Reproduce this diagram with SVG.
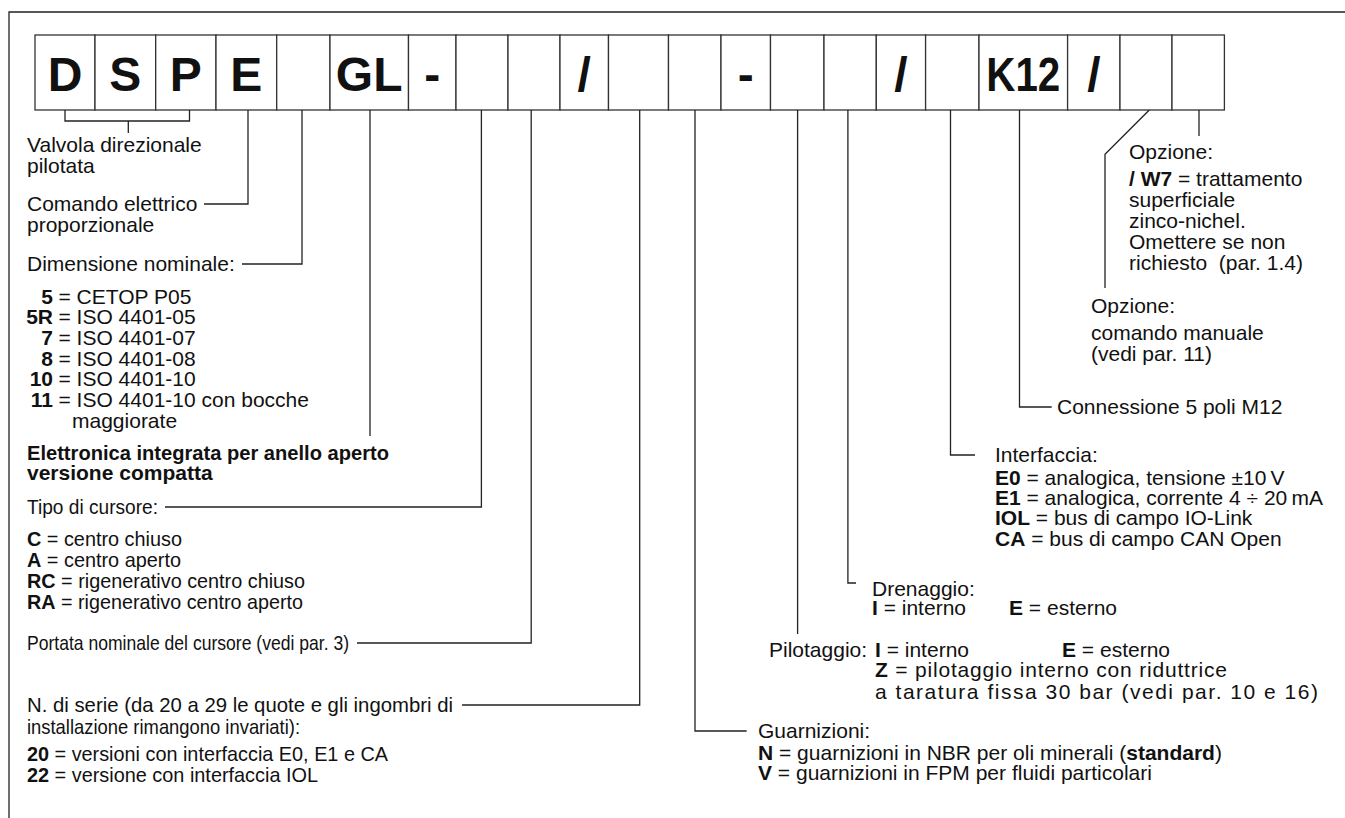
<svg xmlns="http://www.w3.org/2000/svg" width="1345" height="818" viewBox="0 0 1345 818">
<style>
text{font-family:"Liberation Sans",Arial,sans-serif;font-size:21px;fill:#111}
.b{font-weight:bold}
.big{font-size:48px;font-weight:bold;text-anchor:middle}
.end{text-anchor:end}
.box{fill:#fff;stroke:#333;stroke-width:1.3}
.ln{fill:none;stroke:#222;stroke-width:1.3}
</style>
<rect width="1345" height="818" fill="#fff"/>
<path class="ln" d="M9,818 V12 H1345" stroke-width="1.6"/>

<g id="code-boxes">
<g id="box-D"><rect class="box" x="35" y="35" width="60" height="75"/><text class="big" x="65" y="91">D</text></g>
<g id="box-S"><rect class="box" x="95" y="35" width="60.7" height="75"/><text class="big" x="125.3" y="91">S</text></g>
<g id="box-P"><rect class="box" x="155.7" y="35" width="60.3" height="75"/><text class="big" x="185.8" y="91">P</text></g>
<g id="box-E"><rect class="box" x="216" y="35" width="60.7" height="75"/><text class="big" x="246.3" y="91">E</text></g>
<g id="box-size"><rect class="box" x="276.7" y="35" width="53.3" height="75"/></g>
<g id="box-GL"><rect class="box" x="330" y="35" width="78.5" height="75"/><text class="big" x="369.2" y="91">GL</text></g>
<g id="box-dash1"><rect class="box" x="408.5" y="35" width="47.5" height="75"/><text class="big" x="432.2" y="91">-</text></g>
<g id="box-spool"><rect class="box" x="456" y="35" width="52" height="75"/></g>
<g id="box-flow"><rect class="box" x="508" y="35" width="52" height="75"/></g>
<g id="box-slash1"><rect class="box" x="560" y="35" width="48.5" height="75"/><text class="big" x="584.2" y="91">/</text></g>
<g id="box-series"><rect class="box" x="608.5" y="35" width="60" height="75"/></g>
<g id="box-seals"><rect class="box" x="668.5" y="35" width="52.5" height="75"/></g>
<g id="box-dash2"><rect class="box" x="721" y="35" width="49.5" height="75"/><text class="big" x="745.7" y="91">-</text></g>
<g id="box-pilot"><rect class="box" x="770.5" y="35" width="53.5" height="75"/></g>
<g id="box-drain"><rect class="box" x="824" y="35" width="52.3" height="75"/></g>
<g id="box-slash2"><rect class="box" x="876.3" y="35" width="49.3" height="75"/><text class="big" x="901" y="91">/</text></g>
<g id="box-interface"><rect class="box" x="925.6" y="35" width="53.4" height="75"/></g>
<g id="box-K12"><rect class="box" x="979" y="35" width="88.6" height="75"/><text class="big" x="1023.3" y="91" textLength="74" lengthAdjust="spacingAndGlyphs">K12</text></g>
<g id="box-slash3"><rect class="box" x="1067.6" y="35" width="52.4" height="75"/><text class="big" x="1093.8" y="91">/</text></g>
<g id="box-opt1"><rect class="box" x="1120" y="35" width="52" height="75"/></g>
<g id="box-opt2"><rect class="box" x="1172" y="35" width="52.4" height="75"/></g>
</g>

<g id="connectors">
<path class="ln" d="M65,110 V121 H189.5 V110 M128.3,121 V133"/>
<path class="ln" d="M248,110 V204 H204"/>
<path class="ln" d="M302,110 V264 H242"/>
<path class="ln" d="M370,110 V436"/>
<path class="ln" d="M481.4,110 V507 H165"/>
<path class="ln" d="M531.2,110 V643 H357"/>
<path class="ln" d="M639.7,110 V705 H462"/>
<path class="ln" d="M695,110 V731 H746.7"/>
<path class="ln" d="M797.6,110 V634"/>
<path class="ln" d="M847.9,110 V583 H856"/>
<path class="ln" d="M950.5,110 V455 H975"/>
<path class="ln" d="M1019.5,110 V407 H1051.7"/>
<path class="ln" d="M1149.3,110 L1105,154.3 V288"/>
<path class="ln" d="M1199,110 V136"/>
</g>

<g id="lbl-valve"><text x="27" y="152">Valvola direzionale</text><text x="27" y="173">pilotata</text></g>
<g id="lbl-electric"><text x="27" y="211">Comando elettrico</text><text x="27" y="232">proporzionale</text></g>
<g id="lbl-size">
<text x="27" y="271">Dimensione nominale:</text>
<text class="b end" x="53" y="303.5">5</text><text x="58.5" y="303.5">= CETOP P05</text>
<text class="b end" x="53" y="324.2">5R</text><text x="58.5" y="324.2">= ISO 4401-05</text>
<text class="b end" x="53" y="344.9">7</text><text x="58.5" y="344.9">= ISO 4401-07</text>
<text class="b end" x="53" y="365.6">8</text><text x="58.5" y="365.6">= ISO 4401-08</text>
<text class="b end" x="53" y="386.3">10</text><text x="58.5" y="386.3">= ISO 4401-10</text>
<text class="b end" x="53" y="407">11</text><text x="58.5" y="407">= ISO 4401-10 con bocche</text>
<text x="72" y="427.7">maggiorate</text>
</g>
<g id="lbl-electronics"><text class="b" x="27" y="460" textLength="362" lengthAdjust="spacingAndGlyphs">Elettronica integrata per anello aperto</text><text class="b" x="27" y="480">versione compatta</text></g>
<g id="lbl-spool">
<text x="27" y="514" textLength="131" lengthAdjust="spacingAndGlyphs">Tipo di cursore:</text>
<text x="27" y="546" textLength="155" lengthAdjust="spacingAndGlyphs"><tspan class="b">C</tspan> = centro chiuso</text>
<text x="27" y="567" textLength="154" lengthAdjust="spacingAndGlyphs"><tspan class="b">A</tspan> = centro aperto</text>
<text x="27" y="587.5" textLength="278" lengthAdjust="spacingAndGlyphs"><tspan class="b">RC</tspan> = rigenerativo centro chiuso</text>
<text x="27" y="608.5" textLength="276" lengthAdjust="spacingAndGlyphs"><tspan class="b">RA</tspan> = rigenerativo centro aperto</text>
</g>
<g id="lbl-flow"><text x="27" y="650" textLength="322" lengthAdjust="spacingAndGlyphs">Portata nominale del cursore (vedi par. 3)</text></g>
<g id="lbl-series">
<text x="27" y="712" textLength="426" lengthAdjust="spacingAndGlyphs">N. di serie (da 20 a 29 le quote e gli ingombri di</text>
<text x="27" y="733.5" textLength="273" lengthAdjust="spacingAndGlyphs">installazione rimangono invariati):</text>
<text x="27" y="760.5" textLength="361" lengthAdjust="spacingAndGlyphs"><tspan class="b">20</tspan> = versioni con interfaccia E0, E1 e CA</text>
<text x="27" y="781.5" textLength="291" lengthAdjust="spacingAndGlyphs"><tspan class="b">22</tspan> = versione con interfaccia IOL</text>
</g>

<g id="lbl-opt-w7">
<text x="1129" y="159">Opzione:</text>
<text x="1129" y="186"><tspan class="b">/ W7</tspan> = trattamento</text>
<text x="1129" y="207">superficiale</text>
<text x="1129" y="228">zinco-nichel.</text>
<text x="1129" y="249">Omettere se non</text>
<text x="1129" y="270">richiesto&#160; (par. 1.4)</text>
</g>
<g id="lbl-opt-manual">
<text x="1091" y="313">Opzione:</text>
<text x="1091" y="340">comando manuale</text>
<text x="1091" y="361">(vedi par. 11)</text>
</g>
<g id="lbl-connector"><text x="1057" y="414">Connessione 5 poli M12</text></g>
<g id="lbl-interface">
<text x="995" y="462">Interfaccia:</text>
<text x="995" y="485"><tspan class="b">E0</tspan> = analogica, tensione ±10&#8201;V</text>
<text x="995" y="505"><tspan class="b">E1</tspan> = analogica, corrente 4 ÷ 20&#8201;mA</text>
<text x="995" y="525"><tspan class="b">IOL</tspan> = bus di campo IO-Link</text>
<text x="995" y="546"><tspan class="b">CA</tspan> = bus di campo CAN Open</text>
</g>
<g id="lbl-drain">
<text x="872" y="596">Drenaggio:</text>
<text x="872" y="615"><tspan class="b">I</tspan> = interno</text>
<text x="1009" y="615"><tspan class="b">E</tspan> = esterno</text>
</g>
<g id="lbl-pilot">
<text x="769" y="657">Pilotaggio:</text>
<text x="875" y="657"><tspan class="b">I</tspan> = interno</text>
<text x="1062" y="657"><tspan class="b">E</tspan> = esterno</text>
<text x="875" y="677" textLength="352" lengthAdjust="spacing"><tspan class="b">Z</tspan> = pilotaggio interno con riduttrice</text>
<text x="875" y="699" textLength="443" lengthAdjust="spacing">a taratura fissa 30 bar (vedi par. 10 e 16)</text>
</g>
<g id="lbl-seals">
<text x="758" y="738">Guarnizioni:</text>
<text x="758" y="760"><tspan class="b">N</tspan> = guarnizioni in NBR per oli minerali (<tspan class="b">standard</tspan>)</text>
<text x="758" y="780"><tspan class="b">V</tspan> = guarnizioni in FPM per fluidi particolari</text>
</g>
</svg>
